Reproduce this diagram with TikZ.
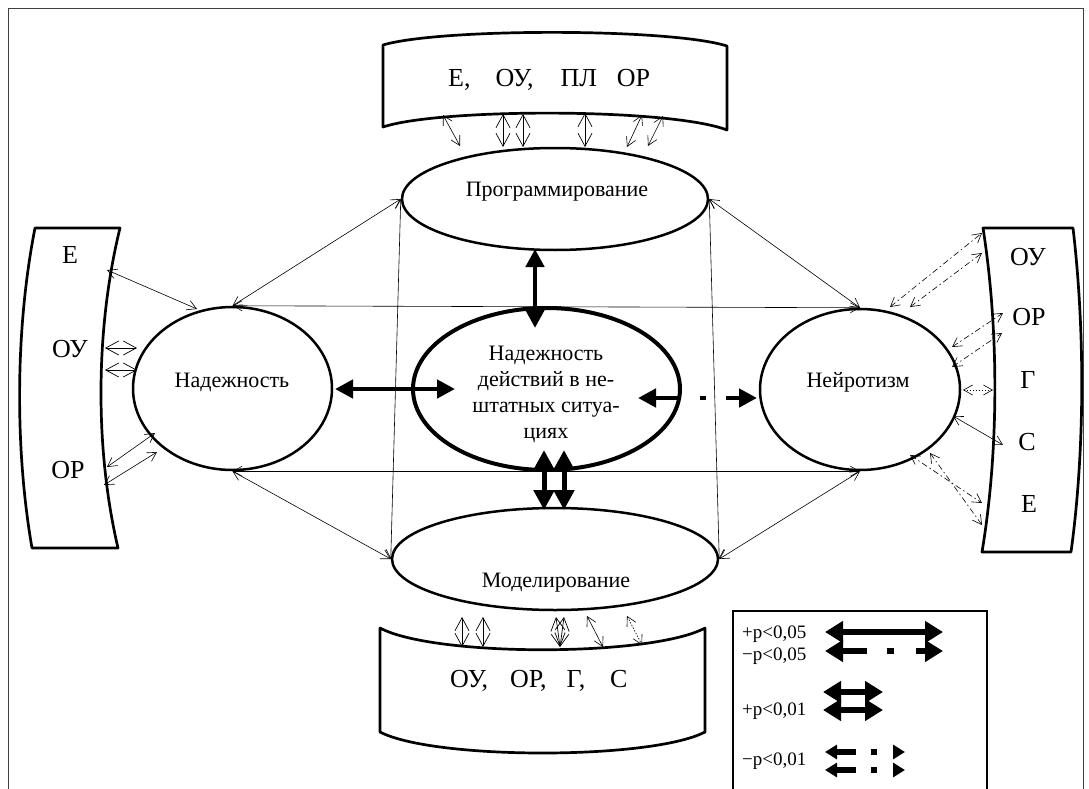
\documentclass[tikz,border=0pt]{standalone}
\usepackage{fontspec}
\setmainfont{Liberation Serif}
\usetikzlibrary{arrows.meta,shapes.geometric}
\tikzset{
 ell/.style={draw, ellipse, line width=2.5pt, inner sep=0pt},
 lab/.style={font=\fontsize{22}{26}\selectfont, inner sep=0pt},
 blab/.style={font=\fontsize{26}{30}\selectfont, inner sep=0pt},
 leg/.style={font=\fontsize{19}{22}\selectfont, inner sep=0pt, anchor=base west},
 bx/.style={draw, line width=2.7pt, line join=round},
 tconn/.style={line width=0.6pt, {Straight Barb[length=9pt,width=10pt]}-{Straight Barb[length=9pt,width=10pt]}},
 tconnw/.style={line width=0.7pt, {Straight Barb[length=13pt,width=14pt]}-{Straight Barb[length=13pt,width=14pt]}},
 tdd/.style={tconn, dash pattern=on 6pt off 3pt on 1.5pt off 3pt},
 tdot/.style={tconn, dash pattern=on 1.5pt off 1.5pt},
 thk/.style={line width=4.5pt, {Triangle[length=18pt,width=18pt]}-{Triangle[length=18pt,width=18pt]}},
 thkv/.style={line width=5pt, {Triangle[length=20pt,width=20pt]}-{Triangle[length=20pt,width=20pt]}},
 lgk/.style={line width=6pt, {Triangle[length=18pt,width=21pt]}-{Triangle[length=18pt,width=21pt]}},
 lgs/.style={line width=6pt, {Triangle[length=12pt,width=14pt]}-{Triangle[length=12pt,width=14pt]}},
}
\begin{document}
\begin{tikzpicture}[x=1pt,y=-1pt]
\useasboundingbox (0,0) rectangle (1089,789);
% frame
\draw[line width=0.8pt, black!75] (8,789) -- (8,8) -- (1083,8) -- (1083,789);

% ellipses
\node[ell, minimum width=306pt, minimum height=102pt] (prog) at (555,199) {};
\node[ell, minimum width=199pt, minimum height=163pt] (nad) at (232.5,388.5) {};
\node[ell, line width=4pt, minimum width=267pt, minimum height=162pt] (cen) at (546.5,389) {};
\node[ell, minimum width=200pt, minimum height=161pt] (nej) at (860,389.5) {};
\node[ell, minimum width=326pt, minimum height=102pt] (mod) at (555,559) {};

\node[lab, anchor=base] (progt) at (557,196) {Программирование};
\node[lab, anchor=base] (nadt) at (232,387) {Надежность};
\node[lab, align=center] (cent) at (546,394) {Надежность\\действий в не-\\штатных ситуа-\\циях};
\node[lab, anchor=base] (nejt) at (858,387) {Нейротизм};
\node[lab, anchor=base] (modt) at (556,587) {Моделирование};

% banners
\draw[bx] (383,45) .. controls (440,28) and (670,28) .. (727,46) -- (727,130) .. controls (670,108) and (440,108) .. (383,127) -- cycle;
\node[blab, anchor=base west] (tbt) at (448,87) {Е,\hspace{25pt}ОУ,\hspace{27pt}ПЛ\hspace{20pt}ОР};

\draw[bx] (380,628) .. controls (434,657) and (651,657) .. (705,628) -- (705,732) .. controls (651,760) and (434,760) .. (380,732) -- cycle;
\node[blab, anchor=base west] (bbt) at (450,687) {ОУ,\hspace{22pt}ОР,\hspace{20pt}Г,\hspace{25pt}С};

\draw[bx] (35,228) -- (120,228) .. controls (95,330) and (95,450) .. (118,548) -- (32,548) .. controls (15,450) and (15,330) .. (35,228) -- cycle;
\node[blab, anchor=base] (lE) at (70,263) {Е};
\node[blab, anchor=base] (lOU) at (70,357) {ОУ};
\node[blab, anchor=base] (lOR) at (68,478) {ОР};

\draw[bx] (983,228) -- (1073,228) .. controls (1085,330) and (1085,450) .. (1071,552) -- (982,552) .. controls (999,450) and (999,330) .. (983,228) -- cycle;
\node[blab, anchor=base] (rOU) at (1028,265) {ОУ};
\node[blab, anchor=base] (rOR) at (1029,325) {ОР};
\node[blab, anchor=base] (rG) at (1028,388) {Г};
\node[blab, anchor=base] (rC) at (1027,450) {С};
\node[blab, anchor=base] (rE) at (1029,512) {Е};

% legend
\draw[line width=1.2pt] (733,795) -- (733,611) -- (987,611) -- (987,795);
\node[leg] (l1) at (742,638) {+p<0,05};
\node[leg] (l2) at (742,660) {−p<0,05};
\node[leg] (l3) at (742,715) {+p<0,01};
\node[leg] (l4) at (742,765) {−p<0,01};
\coordinate (la1) at (825,632); \coordinate (lb1) at (943,632);
\coordinate (la2) at (825,651); \coordinate (lb2) at (943,651);
\coordinate (la3) at (823,692); \coordinate (lb3) at (883,692);
\coordinate (la4) at (823,710); \coordinate (lb4) at (883,710);
\coordinate (la5) at (825,752); \coordinate (lb5) at (905,752);
\coordinate (la6) at (825,770); \coordinate (lb6) at (905,770);
\draw[lgk] (la1) -- (lb1);
\draw[lgk, dash pattern=on 25pt off 20pt on 7pt off 22pt on 8pt off 0pt] (la2) -- (lb2);
\draw[lgk] (la3) -- (lb3);
\draw[lgk] (la4) -- (lb4);
\draw[lgs, dash pattern=on 20pt off 15pt on 6pt off 30pt] (la5) -- (lb5);
\draw[lgs, dash pattern=on 20pt off 15pt on 6pt off 30pt] (la6) -- (lb6);

% thick connectors
\coordinate (p1) at (535,249); \coordinate (p2) at (535,328);
\draw[thk] (p1) -- (p2);
\coordinate (n1) at (335,389); \coordinate (n2) at (455,389);
\draw[thk] (n1) -- (n2);
\coordinate (e1) at (638,398); \coordinate (e2) at (757,398);
\draw[thk, dash pattern=on 23pt off 22pt on 6pt off 20pt on 10pt off 0pt] (e1) -- (e2);
\coordinate (m1) at (544,450); \coordinate (m2) at (544,510);
\coordinate (m3) at (564,450); \coordinate (m4) at (564,510);
\draw[thkv] (m1) -- (m2);
\draw[thkv] (m3) -- (m4);

% thin network
\draw[tconn] (nad.north) -- (nej.north);
\draw[tconn] (nad.south) -- (nej.south);
\draw[tconn] (prog.west) -- (nad.north);
\draw[tconn] (prog.east) -- (nej.north);
\draw[tconn] (prog.west) -- (mod.west);
\draw[tconn] (prog.east) -- (mod.east);
\draw[tconn] (nad.south) -- (mod.west);
\draw[tconn] (nej.south) -- (mod.east);

% left box connectors
\coordinate (a1) at (107,270); \coordinate (a2) at (197,309);
\draw[tconn] (a1) -- (a2);
\coordinate (a3) at (105,348); \coordinate (a4) at (137,348);
\draw[tconnw] (a3) -- (a4);
\coordinate (a5) at (105,370); \coordinate (a6) at (137,370);
\draw[tconnw] (a5) -- (a6);
\coordinate (a7) at (107,467); \coordinate (a8) at (155,433);
\draw[tconn] (a7) -- (a8);
\coordinate (a9) at (104,485); \coordinate (a10) at (157,452);
\draw[tconn] (a9) -- (a10);

% right box connectors
\coordinate (r1) at (890,307); \coordinate (r2) at (982,233);
\draw[tdd] (r1) -- (r2);
\coordinate (r3) at (910,307); \coordinate (r4) at (982,253);
\draw[tdd] (r3) -- (r4);
\coordinate (r5) at (952,347); \coordinate (r6) at (1003,313);
\draw[tdd] (r5) -- (r6);
\coordinate (r7) at (952,367); \coordinate (r8) at (1002,333);
\draw[tdd] (r7) -- (r8);
\coordinate (r9) at (963,390); \coordinate (r10) at (993,390);
\draw[tdot] (r9) -- (r10);
\coordinate (r11) at (953,416); \coordinate (r12) at (1003,445);
\draw[tconn] (r11) -- (r12);
\coordinate (r13) at (910,455); \coordinate (r14) at (982,503);
\draw[tdd] (r13) -- (r14);
\coordinate (r15) at (930,453); \coordinate (r16) at (982,525);
\draw[tdd] (r15) -- (r16);

% top box connectors
\coordinate (t1) at (443,115); \coordinate (t2) at (460,146);
\draw[tconn] (t1) -- (t2);
\coordinate (t3) at (503,114); \coordinate (t4) at (503,147);
\draw[tconnw] (t3) -- (t4);
\coordinate (t5) at (523,114); \coordinate (t6) at (523,147);
\draw[tconnw] (t5) -- (t6);
\coordinate (t7) at (585,113); \coordinate (t8) at (585,147);
\draw[tconnw] (t7) -- (t8);
\coordinate (t9) at (642,115); \coordinate (t10) at (627,147);
\draw[tconn] (t9) -- (t10);
\coordinate (t11) at (663,116); \coordinate (t12) at (648,146);
\draw[tconn] (t11) -- (t12);

% bottom box connectors
\coordinate (b1) at (462,617); \coordinate (b2) at (462,647);
\draw[tconnw] (b1) -- (b2);
\coordinate (b3) at (483,617); \coordinate (b4) at (483,647);
\draw[tconnw] (b3) -- (b4);
\coordinate (b5) at (556,617); \coordinate (b6) at (560,647);
\draw[tconnw] (b5) -- (b6);
\coordinate (b7) at (564,617); \coordinate (b8) at (560,647);
\draw[tconnw] (b7) -- (b8);
\coordinate (b9) at (587,616); \coordinate (b10) at (603,647);
\draw[tconn] (b9) -- (b10);
\coordinate (b11) at (627,616); \coordinate (b12) at (642,645);
\draw[tdot] (b11) -- (b12);
\end{tikzpicture}
\end{document}
